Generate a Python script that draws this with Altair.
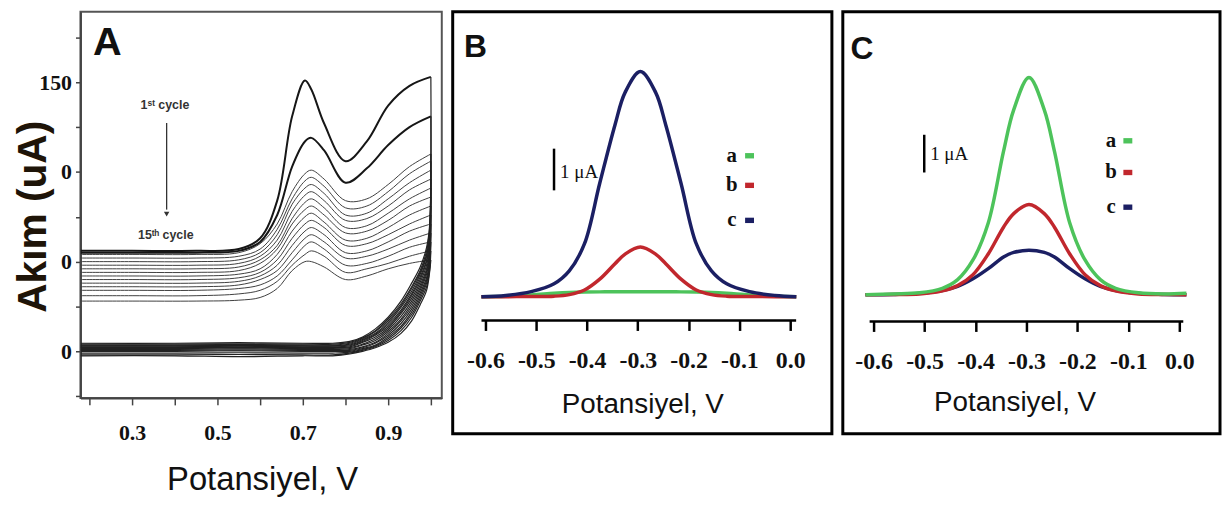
import json
import altair as alt
import pandas as pd

SANS = "Liberation Sans, Arial, sans-serif"
SANS_B = "Liberation Sans, Arial, sans-serif"
SERIF = "Liberation Serif, Times New Roman, serif"

# ---------------- Panel A : cyclic voltammograms (15 cycles) ----------------
A_XF = [0.18, 0.30, 0.45, 0.55, 0.60, 0.64, 0.675, 0.705, 0.72, 0.75, 0.80, 0.85, 0.90, 0.95, 1.00]
A_FWD = [
    [56, 56, 56, 57, 63, 84, 131, 151, 146, 127, 106, 117, 137, 148, 153],
    [55, 55, 55, 56, 61, 76, 103, 117, 119, 112, 94, 102, 115, 125, 131],
    [54, 54, 54, 55, 60, 71, 89, 99, 101, 96, 84, 85, 93, 103, 110],
    [52, 52, 52, 53, 57, 68, 85, 95, 97, 92, 80, 81, 89, 99, 106],
    [50, 50, 50, 51, 55, 65, 82, 91, 93, 88, 76, 77, 85, 94, 101],
    [48, 48, 48, 49, 53, 62, 78, 87, 89, 84, 73, 74, 81, 90, 96],
    [46, 46, 46, 47, 51, 59, 74, 83, 85, 80, 69, 70, 77, 85, 91],
    [44, 44, 44, 45, 49, 57, 71, 79, 81, 76, 66, 67, 73, 81, 86],
    [42, 42, 42, 43, 46, 54, 67, 75, 77, 72, 62, 63, 69, 76, 81],
    [40, 40, 40, 41, 44, 51, 63, 71, 73, 69, 59, 60, 65, 71, 76],
    [38, 38, 38, 39, 42, 48, 59, 67, 69, 65, 55, 56, 61, 67, 71],
    [36, 36, 36, 37, 40, 45, 55, 63, 65, 61, 52, 53, 57, 62, 66],
    [34, 34, 34, 35, 37, 42, 51, 59, 61, 57, 48, 49, 53, 58, 61],
    [31, 31, 31, 32, 34, 39, 48, 54, 56, 53, 44, 46, 49, 53, 56],
    [28, 28, 28, 28.5, 30, 35, 45, 50, 50, 47, 40, 42, 46, 49, 51],
]
A_XR = [1.0, 0.997, 0.99, 0.975, 0.955, 0.93, 0.90, 0.87, 0.84, 0.81, 0.77, 0.70, 0.55, 0.40, 0.18]
A_REV = [
    [153, 70, 58, 47, 38, 28, 19, 12.5, 8, 5.5, 4.5, 4.5, 4.8, 4.5, 4.5],
    [131, 68, 56, 45, 36, 26.5, 18, 11.5, 7.5, 5, 4, 4, 4.2, 4, 4],
    [110, 66, 54, 44, 35, 25.5, 17, 11, 7, 4.5, 3.5, 3.5, 3.8, 3.5, 3.5],
    [106, 64, 53, 43, 33.5, 24.5, 16, 10, 6.5, 4, 3, 3, 3.3, 3, 3],
    [101, 62, 51, 41.5, 32, 23, 15, 9.5, 6, 3.5, 3, 3, 3, 3, 3],
    [96, 60, 50, 40, 31, 22, 14, 9, 5.5, 3, 2.5, 2.5, 2.8, 2.5, 2.5],
    [91, 58, 48, 38.5, 29.5, 21, 13, 8, 5, 2.5, 2, 2, 2.3, 2, 2],
    [86, 56, 46, 37, 28, 19.5, 12, 7, 4, 2, 2, 2, 2, 2, 2],
    [81, 54, 44.5, 35.5, 26.5, 18, 11, 6, 3.5, 1.5, 1.5, 1.5, 1.8, 1.5, 1.5],
    [76, 52, 43, 34, 25, 17, 10, 5, 2.5, 1, 1, 1, 1.2, 1, 1],
    [71, 50, 41, 32.5, 23.5, 15.5, 9, 4.5, 2, 0.5, 0.5, 0.5, 0.6, 0.5, 0.5],
    [66, 48, 39.5, 31, 22, 14, 8, 3.5, 1.5, 0, 0, 0, 0.2, 0, 0],
    [61, 47, 38, 29.5, 20.5, 13, 7, 3, 1, -0.5, -1, -1, -0.8, -1, -1],
    [56, 45, 36, 28, 19, 11.5, 6, 2.5, 0.5, -1, -2, -2, -1.8, -2, -2],
    [51, 44, 34, 26, 17, 10, 5, 2, 0, -1.5, -2.5, -2.5, -3, -2.5, -2.5],
]
A_XDOM = [0.1791, 1.0256]
A_YDOM = [-26.0, 189.3]
A_XTICKS = [0.2, 0.3, 0.4, 0.5, 0.6, 0.7, 0.8, 0.9, 1.0]
A_XLABELS = ["", "0.3", "", "0.5", "", "0.7", "", "0.9", ""]
A_YTICKS = [-25, 0, 25, 50, 75, 100, 125, 150, 175]
A_YLABELS = ["", "0", "", "0", "", "0", "", "150", ""]
A_TEXTS = ["1ˢᵗ cycle", "15ᵗʰ cycle"]
A_TEXT_X = [0.377, 0.379]
A_TEXT_Y = [137.3, 64.8]
A_ARROW = {"x": 0.381, "y": 127.3, "y2": 79.0}
A_HEAD = {"x": 0.381, "y": 76.5}
A_LABEL = {"x": 0.242, "y": 171.9, "t": "A"}

# ---------------- Panels B and C : DPV curves ----------------
B_X = [-0.608, -0.56, -0.51, -0.465, -0.435, -0.405, -0.375, -0.345, -0.325, -0.295,
       -0.265, -0.245, -0.215, -0.185, -0.155, -0.125, -0.08, -0.03, 0.012]
B_A = [0, 0.01, 0.04, 0.08, 0.10, 0.11, 0.115, 0.12, 0.12, 0.12, 0.12, 0.12, 0.115, 0.11, 0.10, 0.08, 0.04, 0.01, 0]
B_B = [0, 0, 0.004, 0.012, 0.05, 0.16, 0.42, 0.79, 1.02, 1.19, 1.02, 0.79, 0.42, 0.16, 0.05, 0.012, 0.004, 0, 0]
B_C = [0, 0.03, 0.12, 0.31, 0.62, 1.27, 2.72, 4.12, 4.90, 5.4, 4.90, 4.12, 2.72, 1.27, 0.62, 0.31, 0.12, 0.03, 0]

C_X = [-0.616, -0.56, -0.51, -0.465, -0.435, -0.405, -0.375, -0.345, -0.325, -0.295,
       -0.265, -0.245, -0.215, -0.185, -0.155, -0.125, -0.08, -0.03, 0.014]
C_A = [0, 0.02, 0.05, 0.17, 0.40, 0.92, 1.90, 3.80, 4.90, 5.76, 4.90, 3.80, 1.90, 0.92, 0.40, 0.17, 0.05, 0.02, 0.04]
C_B = [0, 0.005, 0.02, 0.10, 0.24, 0.53, 1.08, 1.79, 2.15, 2.39, 2.15, 1.79, 1.08, 0.53, 0.24, 0.10, 0.02, 0.005, 0]
C_C = [0, 0.006, 0.035, 0.11, 0.22, 0.42, 0.69, 1.0, 1.12, 1.18, 1.12, 1.0, 0.69, 0.42, 0.22, 0.11, 0.035, 0.006, 0]

DPV_TICKS = [-0.6, -0.5, -0.4, -0.3, -0.2, -0.1, 0.0]
DPV_LABELS = ["-0.6", "-0.5", "-0.4", "-0.3", "-0.2", "-0.1", "0.0"]
SERIES = ["a", "b", "c"]
COLORS = {"a": "#4dc35b", "b": "#c1272d", "c": "#1b1f63"}

B_XDOM = [-0.6645, 0.0821]
B_YDOM = [-3.286, 6.833]
B_AXIS = {"x": -0.6078, "x2": 0.0117, "y": -0.5714}
B_LEG = {"tx": -0.115, "mx": -0.08, "y": [3.38, 2.67, 1.83]}
B_BAR = {"x": -0.465, "y": 3.55, "y2": 2.55, "tx": -0.453, "ty": 2.98}
B_LABEL = {"x": -0.6195, "y": 5.98, "t": "B"}

C_XDOM = [-0.6604, 0.0799]
C_YDOM = [-3.684, 7.5]
C_AXIS = {"x": -0.6078, "x2": 0.0078, "y": -0.7105}
C_LEG = {"tx": -0.134, "mx": -0.101, "y": [4.08, 3.24, 2.32]}
C_BAR = {"x": -0.5006, "y": 4.24, "y2": 3.24, "tx": -0.489, "ty": 3.72}
C_LABEL = {"x": -0.623, "y": 6.5, "t": "C"}


def label_expr(labels, t0, step):
    return f"{json.dumps(labels)}[round((datum.value - ({t0})) / {step})]"


# ---------------- build panel A ----------------
rows = []
for i, ys in enumerate(A_FWD):
    for x, y in zip(A_XF, ys):
        rows.append({"key": f"f{i+1}", "x": x, "y": y,
                     "w": 2.0 if i < 2 else 1.0,
                     "c": "#161616" if i < 2 else "#404040"})
for i, ys in enumerate(A_REV):
    for x, y in zip(A_XR, ys):
        rows.append({"key": f"r{i+1}", "x": x, "y": y, "w": 1.2, "c": "#222222"})
dfA = pd.DataFrame(rows)

xA = alt.X("x:Q", scale=alt.Scale(domain=A_XDOM, nice=False, zero=False),
           axis=alt.Axis(values=A_XTICKS, labelExpr=label_expr(A_XLABELS, 0.2, 0.1),
                         grid=False, domainColor="#444444", domainWidth=2,
                         tickColor="#444444", tickWidth=1.5, tickSize=7,
                         labelFont=SERIF, labelFontSize=22, labelFontWeight="bold",
                         labelColor="#111111", labelPadding=18, labelFlush=False,
                         labelOverlap=False,
                         title="Potansiyel, V", titleFont=SANS, titleFontSize=33,
                         titleFontWeight="normal", titleColor="#111111",
                         titleX=183, titleY=92, titleBaseline="alphabetic",
                         titleAlign="center"))
yA = alt.Y("y:Q", scale=alt.Scale(domain=A_YDOM, nice=False, zero=False),
           axis=alt.Axis(values=A_YTICKS, labelExpr=label_expr(A_YLABELS, -25, 25),
                         grid=False, domainColor="#444444", domainWidth=2,
                         tickColor="#444444", tickWidth=1.5, tickSize=5,
                         labelFont=SERIF, labelFontSize=22, labelFontWeight="bold",
                         labelColor="#111111", labelPadding=4, labelFlush=False,
                         labelOverlap=False, labelBaseline="middle",
                         title="Akım (uA)", titleFont=SANS_B, titleFontSize=41,
                         titleFontWeight="bold", titleColor="#1e1408",
                         titleAngle=270, titleBaseline="top", titleAlign="center",
                         titleX=-67, titleY=206))

linesA = alt.Chart(dfA).mark_line(interpolate="catmull-rom").encode(
    x=xA, y=yA, detail="key:N", order="x:Q",
    strokeWidth=alt.StrokeWidth("w:Q", scale=None),
    color=alt.Color("c:N", scale=None))

dfAt = pd.DataFrame({"x": A_TEXT_X, "y": A_TEXT_Y, "t": A_TEXTS})
textA = alt.Chart(dfAt).mark_text(font=SANS, fontSize=12.5, fontWeight="bold",
                                  color="#333333").encode(x="x:Q", y="y:Q", text="t:N")
arrowA = alt.Chart(pd.DataFrame([A_ARROW])).mark_rule(color="#333333", strokeWidth=1.3).encode(
    x="x:Q", y="y:Q", y2="y2:Q")
headA = alt.Chart(pd.DataFrame([A_HEAD])).mark_point(shape="triangle-down", filled=True,
                                                     size=30, color="#333333", opacity=1).encode(
    x="x:Q", y="y:Q")
letterA = alt.Chart(pd.DataFrame([A_LABEL])).mark_text(font=SANS_B, fontSize=40, fontWeight="bold",
                                                       color="#111111").encode(
    x="x:Q", y="y:Q", text="t:N")

panelA = alt.layer(linesA, textA, arrowA, headA, letterA).properties(
    width=364, height=389,
    view=alt.ViewBackground(stroke="#555555", strokeWidth=2, fill="white"))


# ---------------- build panels B / C ----------------
def dpv_panel(X, curves, draw_order, xdom, ydom, axis_line, offset, title_x, title_y,
              leg, bar, letter, width):
    xenc = alt.X("x:Q", scale=alt.Scale(domain=xdom, nice=False, zero=False),
                 axis=alt.Axis(values=DPV_TICKS, labelExpr=label_expr(DPV_LABELS, -0.6, 0.1),
                               grid=False, domain=False, tickColor="black", tickWidth=2.5,
                               tickSize=10, offset=offset,
                               labelFont=SERIF, labelFontSize=24, labelFontWeight="bold",
                               labelColor="#111111", labelPadding=18, labelFlush=False,
                               labelOverlap=False,
                               title="Potansiyel, V", titleFont=SANS, titleFontSize=28,
                               titleFontWeight="normal", titleColor="#111111",
                               titleX=title_x, titleY=title_y, titleBaseline="alphabetic",
                               titleAlign="center"))
    yenc = alt.Y("y:Q", scale=alt.Scale(domain=ydom, nice=False, zero=False), axis=None)

    layers = []
    layers.append(alt.Chart(pd.DataFrame([axis_line])).mark_rule(color="black", strokeWidth=2.5).encode(
        x=xenc, x2="x2:Q", y=yenc))
    for s in draw_order:
        df = pd.DataFrame({"x": X, "y": curves[s]})
        layers.append(alt.Chart(df).mark_line(interpolate="catmull-rom", strokeWidth=3.5,
                                              color=COLORS[s]).encode(x=xenc, y=yenc, order="x:Q"))
    dleg = pd.DataFrame({"x": [leg["tx"]] * 3, "mx": [leg["mx"]] * 3, "y": leg["y"], "s": SERIES})
    layers.append(alt.Chart(dleg).mark_text(font=SERIF, fontSize=21, fontWeight="bold",
                                            color="#111111").encode(x=xenc, y=yenc, text="s:N"))
    layers.append(alt.Chart(dleg).mark_point(shape="M-1,-0.6H1V0.6H-1Z", filled=True, size=81,
                                             opacity=1).encode(
        x=alt.X("mx:Q"), y=yenc,
        color=alt.Color("s:N", scale=alt.Scale(domain=SERIES, range=[COLORS[s] for s in SERIES]),
                        legend=None)))
    layers.append(alt.Chart(pd.DataFrame([bar])).mark_rule(color="black", strokeWidth=2.5).encode(
        x=xenc, y=yenc, y2="y2:Q"))
    layers.append(alt.Chart(pd.DataFrame([{"x": bar["tx"], "y": bar["ty"], "t": "1 μA"}])).mark_text(
        font=SERIF, fontSize=19, align="left", color="#111111").encode(x=xenc, y=yenc, text="t:N"))
    layers.append(alt.Chart(pd.DataFrame([letter])).mark_text(
        font=SANS_B, fontSize=32, fontWeight="bold", color="#111111").encode(x=xenc, y=yenc, text="t:N"))
    return alt.layer(*layers).properties(
        width=width, height=425,
        view=alt.ViewBackground(stroke="black", strokeWidth=3, fill="white"))


panelB = dpv_panel(B_X, {"a": B_A, "b": B_B, "c": B_C}, ["a", "b", "c"], B_XDOM, B_YDOM,
                   B_AXIS, -114, 191, 93, B_LEG, B_BAR, B_LABEL, 382)
panelC = dpv_panel(C_X, {"a": C_A, "b": C_B, "c": C_C}, ["c", "b", "a"], C_XDOM, C_YDOM,
                   C_AXIS, -113, 173, 90, C_LEG, C_BAR, C_LABEL, 380)

chart = alt.hconcat(panelA, panelB, panelC, spacing=11).properties(
    bounds="flush",
    padding={"left": 4, "top": 0, "right": 0, "bottom": 0},
    background="white",
).resolve_scale(x="independent", y="independent", color="independent")

chart.save("out.html", embed_options={"renderer": "svg", "actions": False})
